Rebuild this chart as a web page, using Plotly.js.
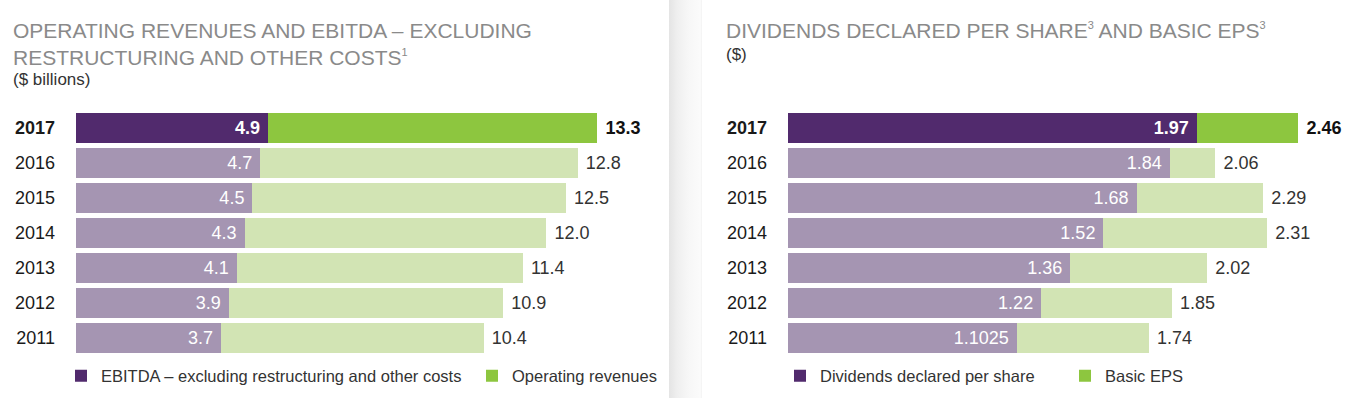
<!DOCTYPE html>
<html>
<head>
<meta charset="utf-8">
<script src="https://cdn.plot.ly/plotly-3.0.1.min.js"></script>
<style>
  html, body { margin: 0; padding: 0; background: #ffffff; }
  #wrap { position: relative; width: 1361px; height: 398px; overflow: hidden; }
  #sep { position: absolute; left: 669px; top: 0; width: 33px; height: 398px;
         background: linear-gradient(to right, #e4e4e4 0%, #efefef 25%, #f7f7f7 60%, #fbfbfb 95%, #f2f2f2 100%); }
  #chart { position: absolute; left: 0; top: 0; width: 1361px; height: 398px; }
</style>
</head>
<body>
<div id="wrap"><div id="sep"></div><div id="chart"></div></div>
<script>
// ---- Data ----
const years = ['2017', '2016', '2015', '2014', '2013', '2012', '2011'];
const ebitda = [4.9, 4.7, 4.5, 4.3, 4.1, 3.9, 3.7];
const revenues = [13.3, 12.8, 12.5, 12.0, 11.4, 10.9, 10.4];
const dividends = [1.97, 1.84, 1.68, 1.52, 1.36, 1.22, 1.1025];
const eps = [2.46, 2.06, 2.29, 2.31, 2.02, 1.85, 1.74];

const leftTitle1 = 'OPERATING REVENUES AND EBITDA – EXCLUDING';
const leftTitle2 = 'RESTRUCTURING AND OTHER COSTS<sup><span style="font-size:11px">1</span></sup>';
const leftSub = '($ billions)';
const rightTitle = 'DIVIDENDS DECLARED PER SHARE<sup><span style="font-size:11px">3</span></sup> AND BASIC EPS<sup><span style="font-size:11px">3</span></sup>';
const rightSub = '($)';

// ---- Styles ----
const DARK_PURPLE = '#512a6d', LIGHT_PURPLE = '#a595b2';
const GREEN = '#8dc63f', LIGHT_GREEN = '#d2e4b4';
const FONT = 'Liberation Sans, Arial, sans-serif';
const W = 1361, H = 398;
const px = v => v / W;
const py = v => 1 - v / H;

const isLatest = (i) => i === 0;
const barColors = (dark, light) => years.map((y, i) => isLatest(i) ? dark : light);
const fmt1 = v => v.toFixed(1);
const fmtRaw = v => String(v);
const boldIf = (s, i) => isLatest(i) ? '<b>' + s + '</b>' : s;

function stackPair(base, total, fmt, xa, ya, legendName, baseName, restName) {
  const rest = total.map((t, i) => +(t - base[i]).toFixed(6));
  return [
    {
      type: 'bar', orientation: 'h', name: baseName, legend: legendName,
      y: years, x: base, xaxis: xa, yaxis: ya,
      marker: { color: barColors(DARK_PURPLE, LIGHT_PURPLE), line: { width: 0 } },
      text: base.map((v, i) => boldIf(fmt(v), i) + '&nbsp;'),
      textposition: 'inside', insidetextanchor: 'end', textangle: 0,
      textfont: { family: FONT, size: 18, color: '#ffffff' },
      constraintext: 'none', hoverinfo: 'skip'
    },
    {
      type: 'bar', orientation: 'h', name: restName, legend: legendName,
      y: years, x: rest, xaxis: xa, yaxis: ya,
      marker: { color: barColors(GREEN, LIGHT_GREEN), line: { width: 0 } },
      text: total.map((v, i) => '&nbsp;' + boldIf(fmt(v), i)),
      textposition: 'outside', textangle: 0, cliponaxis: false,
      textfont: { family: FONT, size: 18, color: years.map((y, i) => isLatest(i) ? '#111111' : '#333333') },
      constraintext: 'none', hoverinfo: 'skip'
    }
  ];
}

const traces = [
  ...stackPair(ebitda, revenues, fmt1, 'x', 'y', 'legend',
               'EBITDA – excluding restructuring and other costs', 'Operating revenues'),
  ...stackPair(dividends, eps, fmtRaw, 'x2', 'y2', 'legend2',
               'Dividends declared per share', 'Basic EPS')
];

const yDomain = [py(355.5), py(110.5)];
const yAxisCommon = {
  type: 'category', range: [6.5, -0.5], domain: yDomain,
  tickvals: years, ticktext: years.map((y, i) => boldIf(y, i)),
  tickfont: { family: FONT, size: 18, color: '#1a1a1a' },
  ticks: '', ticklabelstandoff: 20,
  showgrid: false, zeroline: false, showline: false, fixedrange: true
};

const titleFont = { family: FONT, size: 21, color: '#8a8a8a' };
const subFont = { family: FONT, size: 17, color: '#333333' };
const annotations = [
  { xref: 'paper', yref: 'paper', x: px(11), y: py(31), xanchor: 'left', yanchor: 'middle', text: leftTitle1, showarrow: false, font: titleFont },
  { xref: 'paper', yref: 'paper', x: px(11), y: py(57), xanchor: 'left', yanchor: 'middle', text: leftTitle2, showarrow: false, font: titleFont },
  { xref: 'paper', yref: 'paper', x: px(11), y: py(79), xanchor: 'left', yanchor: 'middle', text: leftSub, showarrow: false, font: subFont },
  { xref: 'paper', yref: 'paper', x: px(724), y: py(31), xanchor: 'left', yanchor: 'middle', text: rightTitle, showarrow: false, font: titleFont },
  { xref: 'paper', yref: 'paper', x: px(724), y: py(55), xanchor: 'left', yanchor: 'middle', text: rightSub, showarrow: false, font: subFont }
];

const legendCommon = {
  orientation: 'h', yanchor: 'middle', xanchor: 'left', traceorder: 'normal',
  bgcolor: 'rgba(0,0,0,0)', font: { family: FONT, size: 16.5, color: '#333333' },
  itemclick: false, itemdoubleclick: false, tracegroupgap: 0
};

const layout = {
  width: W, height: H, autosize: false,
  margin: { l: 0, r: 0, t: 0, b: 0, pad: 0, autoexpand: false },
  paper_bgcolor: 'rgba(0,0,0,0)', plot_bgcolor: 'rgba(0,0,0,0)',
  barmode: 'stack', bargap: 0.143,
  showlegend: true,
  xaxis: { domain: [px(76), px(660)], range: [0, (660 - 76) / 39.2], visible: false, fixedrange: true },
  yaxis: Object.assign({ anchor: 'x' }, yAxisCommon),
  xaxis2: { domain: [px(788), px(1350)], range: [0, (1350 - 788) / 207.5], visible: false, fixedrange: true },
  yaxis2: Object.assign({ anchor: 'x2' }, yAxisCommon),
  legend: Object.assign({ x: px(61), y: py(376), entrywidth: 366 }, legendCommon),
  legend2: Object.assign({ x: px(780), y: py(376), entrywidth: 240 }, legendCommon),
  annotations: annotations,
  font: { family: FONT }
};

Plotly.newPlot('chart', traces, layout, { displayModeBar: false, staticPlot: true });
</script>
</body>
</html>
